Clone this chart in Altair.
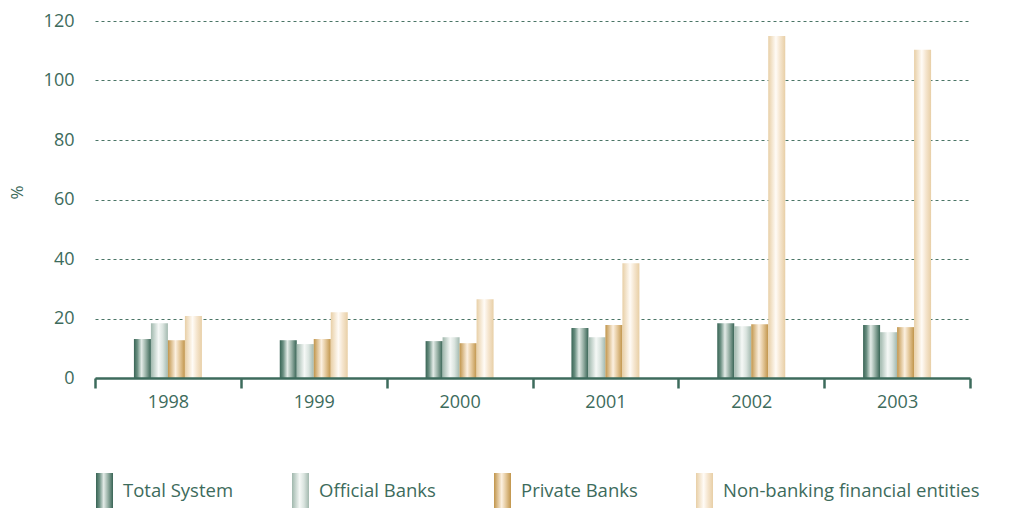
import altair as alt
import pandas as pd

years = ["1998", "1999", "2000", "2001", "2002", "2003"]
series = ["Total System", "Official Banks", "Private Banks", "Non-banking financial entities"]
total_system = [13.1, 12.7, 12.4, 16.8, 18.4, 17.8]
official_banks = [18.4, 11.4, 13.7, 13.7, 17.4, 15.4]
private_banks = [12.7, 13.1, 11.7, 17.8, 18.1, 17.1]
non_banking = [20.8, 22.1, 26.5, 38.6, 115.0, 110.3]
y_ticks = [0, 20, 40, 60, 80, 100, 120]

values = [total_system, official_banks, private_banks, non_banking]
rows = []
for s, vals in zip(series, values):
    for yr, v in zip(years, vals):
        rows.append({"year": yr, "series": s, "value": v})
df = pd.DataFrame(rows)

TXT = "#3d6b5c"

stops = {
    "Total System": [(0, "#386455"), (0.2, "#6a8f81"), (0.45, "#e3ebe7"), (0.7, "#98b1a6"), (1, "#386455")],
    "Official Banks": [(0, "#a0b8ad"), (0.45, "#f5f8f6"), (0.7, "#dae4df"), (1, "#a3b9af")],
    "Private Banks": [(0, "#c1954b"), (0.45, "#fcf0e0"), (0.7, "#e4c89b"), (1, "#c1954b")],
    "Non-banking financial entities": [(0, "#e8cfa6"), (0.45, "#fffbf6"), (0.7, "#f5e5ce"), (1, "#e8cfa6")],
}


def grad_expr(s):
    st = ",".join("{offset:%s,color:'%s'}" % (o, c) for o, c in stops[s])
    return "{gradient:'linear',x1:0,y1:0,x2:1,y2:0,stops:[%s]}" % st


offset_domain = ["_pad1", "_pad2"] + series + ["_pad3", "_pad4"]

x_enc = alt.X(
    "year:N",
    sort=years,
    title=None,
    scale=alt.Scale(paddingInner=0, paddingOuter=0),
    axis=alt.Axis(
        labelAngle=0, labelFontSize=18, labelColor=TXT, labelPadding=5,
        domainColor=TXT, domainWidth=2.5, tickColor=TXT, tickWidth=2.5, tickSize=10,
        tickBand="extent", grid=False, zindex=1,
    ),
)
xoff_enc = alt.XOffset(
    "series:N",
    scale=alt.Scale(domain=offset_domain, paddingInner=0, paddingOuter=0.29),
)
y_enc = alt.Y(
    "value:Q",
    title="%",
    scale=alt.Scale(domain=[0, 120], nice=False),
    axis=alt.Axis(
        values=y_ticks, labelFontSize=18, labelColor=TXT, labelPadding=21,
        ticks=False, domain=False, grid=True, gridColor="#4a7566", gridDash=[3, 3],
        gridWidth=1, titleColor=TXT, titleFontSize=17, titleFontWeight="normal",
        titleAngle=270, titleX=-78, titleY=171, titleAlign="center", titleBaseline="middle",
    ),
)
color_enc = alt.Color(
    "series:N", sort=series,
    scale=alt.Scale(domain=series, range=[{"expr": grad_expr(s)} for s in series]),
    legend=alt.Legend(
        title=None, orient="none", direction="horizontal", legendX=-8, legendY=452,
        symbolType="M-0.486,-1V1H0.486V-1Z", symbolSize=1225, symbolOpacity=1,
        symbolStrokeWidth=0,
        labelFontSize=18.5, labelColor=TXT, labelOffset=1, columnPadding=49,
        padding=0, labelLimit=400,
    ),
)

chart = alt.Chart(df).mark_bar(strokeWidth=0).encode(
    x=x_enc, xOffset=xoff_enc, y=y_enc, color=color_enc
).properties(
    width=875, height=357,
    autosize=alt.AutoSizeParams(type="none"),
    padding={"left": 95, "top": 21, "right": 48, "bottom": 131},
).configure(font="Open Sans").configure_view(stroke=None)

chart.save("out.html", embed_options={"renderer": "svg", "actions": False})
